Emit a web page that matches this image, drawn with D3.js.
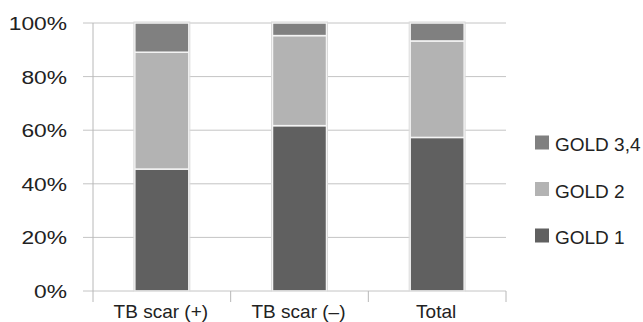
<!DOCTYPE html>
<html><head><meta charset="utf-8">
<script src="https://cdn.jsdelivr.net/npm/d3@7"></script>
<style>body{margin:0;background:#fff}svg{display:block}text{font-family:"Liberation Sans",Arial,sans-serif;fill:#222}</style>
</head><body><svg id="c" width="643" height="322"></svg>
<script>
const categories = ["TB scar (+)", "TB scar (\u2013)", "Total"];
const seriesNames = ["GOLD 1", "GOLD 2", "GOLD 3,4"];
const gold1 = [45.5, 61.7, 57.3];
const gold2 = [43.6, 33.6, 36.0];
const gold34 = [10.9, 4.7, 6.7];
const yTicks = [0, 20, 40, 60, 80, 100];
const colors = ["#606060", "#b3b3b3", "#808080"];

const svg = d3.select("#c");
const x0 = 93, x1 = 506, yTop = 23, yBot = 291;
const x = d3.scaleBand().domain(categories).range([x0, x1]).paddingInner(0).paddingOuter(0);
const y = d3.scaleLinear().domain([0, 100]).range([yBot, yTop]);

// gridlines
svg.append("g").selectAll("line").data(yTicks).join("line")
  .attr("x1", 83).attr("x2", x1).attr("y1", d => y(d)).attr("y2", d => y(d))
  .attr("stroke", "#c4c4c4").attr("stroke-width", 1);
// y axis line
svg.append("line").attr("x1", x0).attr("x2", x0).attr("y1", yTop).attr("y2", yBot + 11)
  .attr("stroke", "#b8b8b8");
// x category ticks
const bounds = categories.map(c => x(c)).slice(1).concat([x1]);
svg.append("g").selectAll("line").data(bounds).join("line")
  .attr("x1", d => d).attr("x2", d => d).attr("y1", yBot).attr("y2", yBot + 11)
  .attr("stroke", "#b8b8b8");

// y tick labels
svg.append("g").selectAll("text").data(yTicks).join("text")
  .attr("transform", d => `translate(67,${y(d) + 7}) scale(1.2,1)`)
  .attr("text-anchor", "end").attr("font-size", 19)
  .text(d => d + "%");

// stacked data
const rows = categories.map((c, i) => ({cat: c, "GOLD 1": gold1[i], "GOLD 2": gold2[i], "GOLD 3,4": gold34[i]}));
const stack = d3.stack().keys(seriesNames)(rows);
const bw = 54;
const g = svg.append("g");
stack.forEach((layer, li) => {
  g.selectAll(null).data(layer).join("rect")
    .attr("x", d => x(d.data.cat) + x.bandwidth() / 2 - bw / 2)
    .attr("width", bw)
    .attr("y", d => y(Math.min(d[1], 100)))
    .attr("height", d => y(d[0]) - y(Math.min(d[1], 100)))
    .attr("fill", colors[li])
    .attr("stroke", "#f4f4f4").attr("stroke-width", 1.5);
});
// outer outline
g.selectAll(null).data(categories).join("rect")
  .attr("x", c => x(c) + x.bandwidth() / 2 - bw / 2 - 1)
  .attr("width", bw + 2).attr("y", y(100) - 1).attr("height", y(0) - y(100) + 1)
  .attr("fill", "none").attr("stroke", "#dadada").attr("stroke-width", 1);

// x labels
svg.append("g").selectAll("text").data(categories).join("text")
  .attr("x", c => x(c) + x.bandwidth() / 2 - 1).attr("y", 318)
  .attr("text-anchor", "middle").attr("font-size", 19)
  .text(c => c);

// legend
const legOrder = [2, 1, 0];
const lg = svg.append("g");
legOrder.forEach((si, k) => {
  const cy = 143 + k * 46.5;
  lg.append("rect").attr("x", 535).attr("y", cy - 7.5).attr("width", 14).attr("height", 14)
    .attr("fill", colors[si]);
  lg.append("text").attr("x", 555).attr("y", cy + 8).attr("font-size", 19).text(seriesNames[si]);
});
</script></body></html>
